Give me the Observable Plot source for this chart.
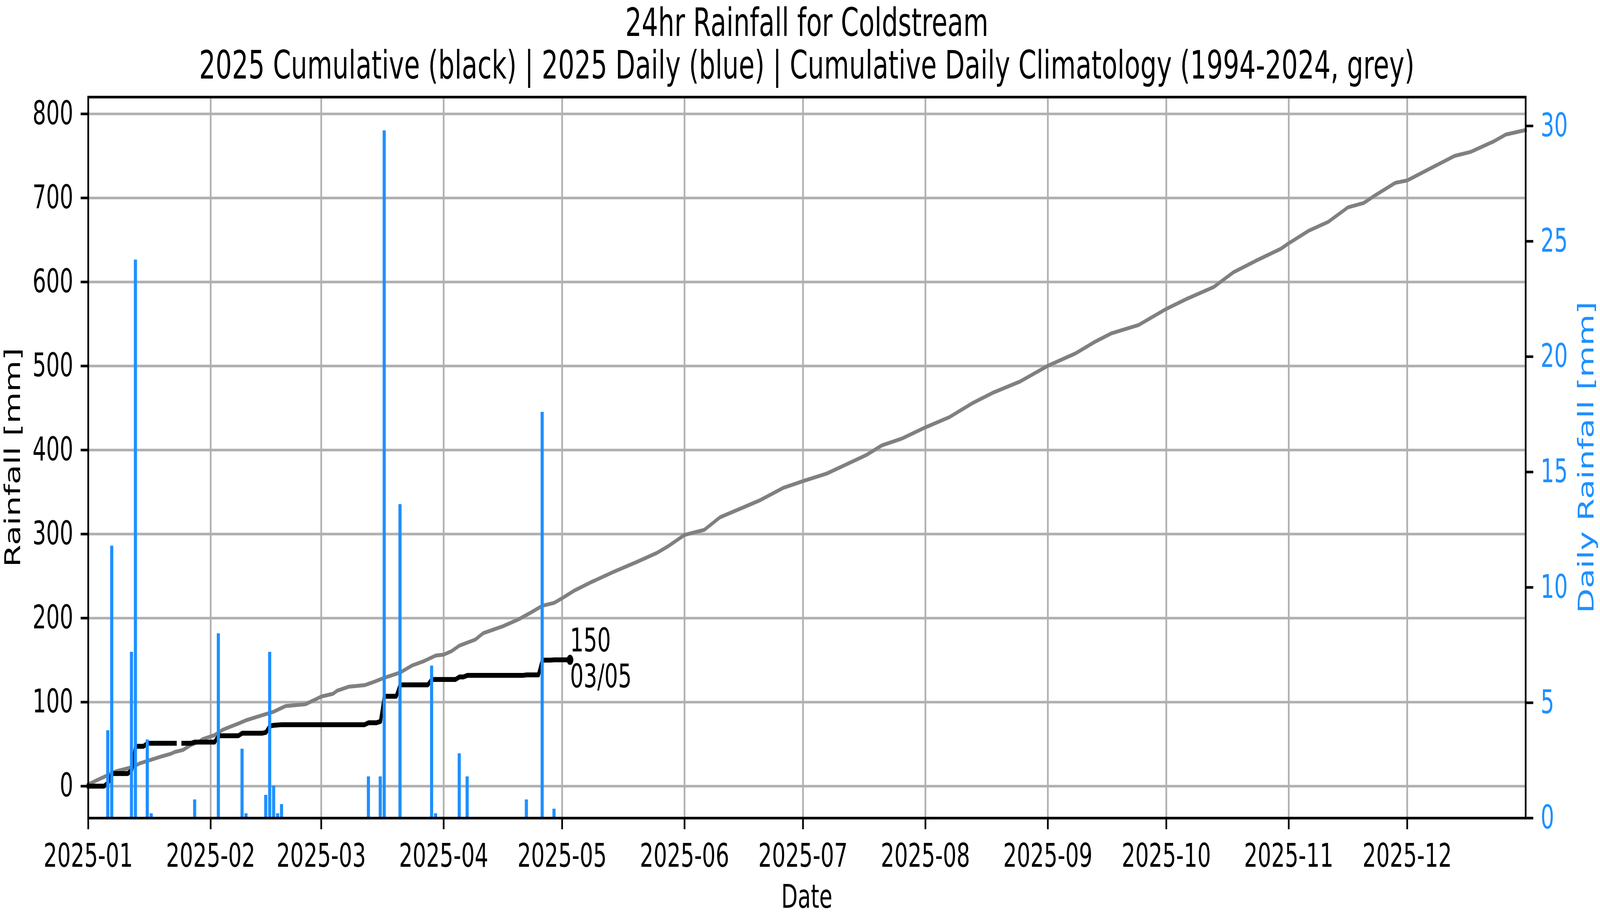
<!DOCTYPE html>
<html><head><meta charset="utf-8">
<script src="https://cdn.jsdelivr.net/npm/d3@7"></script>
<script src="https://cdn.jsdelivr.net/npm/@observablehq/plot@0.6"></script>
<style>
html,body{margin:0;padding:0;background:#fff;overflow:hidden;}
#wrap{position:relative;overflow:hidden;background:#fff;}
#fig{position:absolute;left:0;top:0;width:6210px;height:2344px;font-family:"DejaVu Sans",sans-serif;color:#000;overflow:hidden;background:#fff;transform-origin:0 0;}
#fig svg{position:absolute;left:0;top:0;}
.t{position:absolute;left:342px;width:5579px;text-align:center;font-size:100px;line-height:100px;height:100px;white-space:nowrap;}
.lab{position:absolute;left:342px;width:5579px;text-align:center;font-size:83px;line-height:97px;height:97px;white-space:nowrap;}
.ylab{position:absolute;width:1845px;height:97px;line-height:97px;font-size:83px;text-align:center;transform:rotate(-90deg);transform-origin:50% 50%;white-space:nowrap;}
</style></head><body><div id="wrap"><div id="fig"></div></div><script>
// ---------- data ----------
const titleLine1 = "24hr Rainfall for Coldstream";
const titleLine2 = "2025 Cumulative (black) | 2025 Daily (blue) | Cumulative Daily Climatology (1994-2024, grey)";
const xLabel = "Date";
const yLabelLeft = "Rainfall [mm]";
const yLabelRight = "Daily Rainfall [mm]";

const xStart = "2025-01-01";
const xEnd = "2025-12-31";
const monthTickDates = ["2025-01-01","2025-02-01","2025-03-01","2025-04-01","2025-05-01","2025-06-01",
  "2025-07-01","2025-08-01","2025-09-01","2025-10-01","2025-11-01","2025-12-01"];
const leftTicks = [0,100,200,300,400,500,600,700,800];
const rightTicks = [0,5,10,15,20,25,30];
const leftDomain = [-38, 820];
const rightDomain = [0, 31.25];

// 2025 daily rainfall (blue bars)
const rainDates = ["2025-01-06","2025-01-07","2025-01-12","2025-01-13","2025-01-16","2025-01-17","2025-01-28",
  "2025-02-03","2025-02-09","2025-02-10","2025-02-15","2025-02-16","2025-02-17","2025-02-18","2025-02-19",
  "2025-03-13","2025-03-16","2025-03-17","2025-03-21","2025-03-29","2025-03-30",
  "2025-04-05","2025-04-07","2025-04-22","2025-04-26","2025-04-29"];
const rainMm = [3.8,11.8,7.2,24.2,3.4,0.2,0.8,
  8.0,3.0,0.2,1.0,7.2,1.4,0.2,0.6,
  1.8,1.8,29.8,13.6,6.6,0.2,
  2.8,1.8,0.8,17.6,0.4];

// 2025 cumulative (black line), null = missing day
const cumDates = ["2025-01-01","2025-01-05","2025-01-06","2025-01-07","2025-01-11","2025-01-12","2025-01-13",
  "2025-01-15","2025-01-16","2025-01-23","2025-01-24","2025-01-25","2025-01-27","2025-01-28","2025-02-02",
  "2025-02-03","2025-02-08","2025-02-09","2025-02-14","2025-02-15","2025-02-16","2025-02-17","2025-02-19",
  "2025-03-12","2025-03-13","2025-03-15","2025-03-16","2025-03-17","2025-03-20","2025-03-21","2025-03-28",
  "2025-03-29","2025-04-04","2025-04-05","2025-04-06","2025-04-07","2025-04-21","2025-04-22","2025-04-25",
  "2025-04-26","2025-04-28","2025-04-29","2025-05-03"];
const cumMm = [0,0,3.8,15,15,19,47.5,
  47.5,51,51,null,51,51,52.5,52.5,
  60,60,63,63,64,71.5,72.5,73.2,
  73.2,75.5,75.5,77,107,107,120.6,120.6,
  127,127,130,130,131.8,131.8,132.4,132.4,
  150,150,150.3,150.3];

// cumulative daily climatology 1994-2024 (grey line)
const climDates = ["2025-01-01","2025-01-03","2025-01-05","2025-01-08","2025-01-10","2025-01-12","2025-01-14",
  "2025-01-17","2025-01-19","2025-01-22","2025-01-23","2025-01-25","2025-01-27","2025-01-29","2025-01-30",
  "2025-02-02","2025-02-04","2025-02-06","2025-02-08","2025-02-10","2025-02-14","2025-02-17","2025-02-20",
  "2025-02-25","2025-02-28","2025-03-01","2025-03-04","2025-03-05","2025-03-08","2025-03-12","2025-03-14",
  "2025-03-17","2025-03-21","2025-03-24","2025-03-27","2025-03-30","2025-04-01","2025-04-03","2025-04-05",
  "2025-04-09","2025-04-11","2025-04-16","2025-04-20","2025-04-23","2025-04-26","2025-04-29","2025-05-01",
  "2025-05-04","2025-05-08","2025-05-14","2025-05-20","2025-05-25","2025-05-28","2025-06-01","2025-06-06",
  "2025-06-10","2025-06-16","2025-06-20","2025-06-26","2025-07-01","2025-07-07","2025-07-12","2025-07-17",
  "2025-07-21","2025-07-26","2025-08-01","2025-08-07","2025-08-13","2025-08-18","2025-08-25","2025-09-01",
  "2025-09-08","2025-09-13","2025-09-17","2025-09-24","2025-10-01","2025-10-06","2025-10-13","2025-10-18",
  "2025-10-24","2025-10-30","2025-11-01","2025-11-06","2025-11-11","2025-11-16","2025-11-20","2025-11-23",
  "2025-11-28","2025-12-01","2025-12-07","2025-12-13","2025-12-17","2025-12-23","2025-12-26","2025-12-31"];
const climMm = [2,6.7,11,17.7,20,22.5,27,
  31.6,34.6,38.7,40.8,43.1,49,52.8,56,
  60.8,67,70.8,74.5,78.5,84.4,88.7,95.4,
  97.5,104.3,106.6,110,113.5,118.4,120.2,123.5,
  129,135.3,143.6,148.8,155.5,156.5,160.7,167.3,
  174.4,182,190.3,198.6,206.4,214.7,218.2,223.7,
  232.5,242,255,267,277.6,286,299,305,
  320,332,340,355,363,372,383,394,
  405.6,413.6,427,439,456,468,481.6,500.3,
  515,529,538.7,548.8,568,579.5,594,611.5,
  626,639.5,646,660.8,671.5,688.8,694,703.5,
  718,720.8,735.5,750,754.7,767.5,775.5,780.8];

// ---------- build ----------
const parse = d3.utcParse("%Y-%m-%d");
const rain = rainDates.map((d, i) => ({date: parse(d), mm: rainMm[i]}));
const cum = cumDates.map((d, i) => ({date: parse(d), mm: cumMm[i]}));
const clim = climDates.map((d, i) => ({date: parse(d), mm: climMm[i]}));
const monthTicks = monthTickDates.map(parse);
const last = cum.filter(d => d.mm != null).slice(-1);

const W = 6210, H = 2344;
const BLUE = "#1E90FF", GRID = "#b0b0b0", LW = 6.67, FS = 83;
const base = {width: W, height: H, marginLeft: 342, marginRight: 289, marginTop: 248, marginBottom: 251};
const xScale = {type: "utc", domain: [parse(xStart), parse(xEnd)]};
const svgStyle = {fontFamily: "'DejaVu Sans', sans-serif", fontSize: FS + "px", background: "transparent", overflow: "visible", maxWidth: "none"};

const p1 = Plot.plot({
  ...base, style: {...svgStyle, background: "white"}, x: xScale, y: {domain: leftDomain},
  marks: [
    Plot.gridX(monthTicks, {stroke: GRID, strokeOpacity: 1, strokeWidth: LW}),
    Plot.gridY(leftTicks, {stroke: GRID, strokeOpacity: 1, strokeWidth: LW}),
    Plot.line(clim, {x: "date", y: "mm", stroke: "#808080", strokeWidth: 10, strokeLinejoin: "round", strokeLinecap: "square"}),
    Plot.line(cum, {x: "date", y: "mm", stroke: "#000", strokeWidth: 12.5, strokeLinejoin: "round", strokeLinecap: "square"}),
    Plot.dot(last, {x: "date", y: "mm", r: 13, fill: "#000", stroke: null}),
    Plot.text(last, {x: "date", y: "mm", text: d => `${Math.round(d.mm)}\n${d3.utcFormat("%d/%m")(d.date)}`,
      textAnchor: "start", lineAnchor: "middle", lineHeight: 1.11, fontSize: FS, fill: "#000", dy: -5}),
    Plot.axisX(monthTicks, {anchor: "bottom", tickFormat: d3.utcFormat("%Y-%m"), tickSize: 29, tickPadding: 37, strokeWidth: LW, fontSize: FS, label: null}),
    Plot.axisY(leftTicks, {anchor: "left", tickFormat: d => String(d), tickSize: 29, tickPadding: 29, strokeWidth: LW, fontSize: FS, label: null})
  ]
});
const p2 = Plot.plot({
  ...base, style: svgStyle, x: {...xScale, axis: null}, y: {domain: rightDomain, axis: null},
  marks: [
    Plot.rect(rain, {x1: d => d3.utcHour.offset(d.date, -9.6), x2: d => d3.utcHour.offset(d.date, 9.6), y1: 0, y2: "mm", fill: BLUE}),
    Plot.axisY(rightTicks, {anchor: "right", tickFormat: d => String(d), tickSize: 29, tickPadding: 29, strokeWidth: LW, stroke: "#000", fill: BLUE, fontSize: FS, label: null}),
    Plot.frame({stroke: "#000", strokeWidth: LW})
  ]
});
const fig = document.getElementById("fig");
fig.appendChild(p1);
fig.appendChild(p2);
function addDiv(cls, text, css) {
  const el = document.createElement("div");
  el.className = cls; el.textContent = text; Object.assign(el.style, css); fig.appendChild(el);
}
addDiv("t", titleLine1, {top: "8px"});
addDiv("t", titleLine2, {top: "117px"});
addDiv("lab", xLabel, {top: "2246px"});
addDiv("ylab", yLabelLeft, {left: "-873px", top: "1122px"});
addDiv("ylab", yLabelRight, {left: "5233px", top: "1122px", color: BLUE});

// The browser viewport can be narrower than the 6210x2344 target (it is capped),
// so map the fixed-size figure onto the whole viewport.
const vw = window.innerWidth, vh = window.innerHeight;
const sx = Math.min(1, vw / W), sy = Math.min(1, vh / H);
const wrap = document.getElementById("wrap");
wrap.style.width = (W * sx) + "px";
wrap.style.height = (H * sy) + "px";
if (sx < 0.999 || sy < 0.999) fig.style.transform = `scale(${sx}, ${sy})`;
</script></body></html>
